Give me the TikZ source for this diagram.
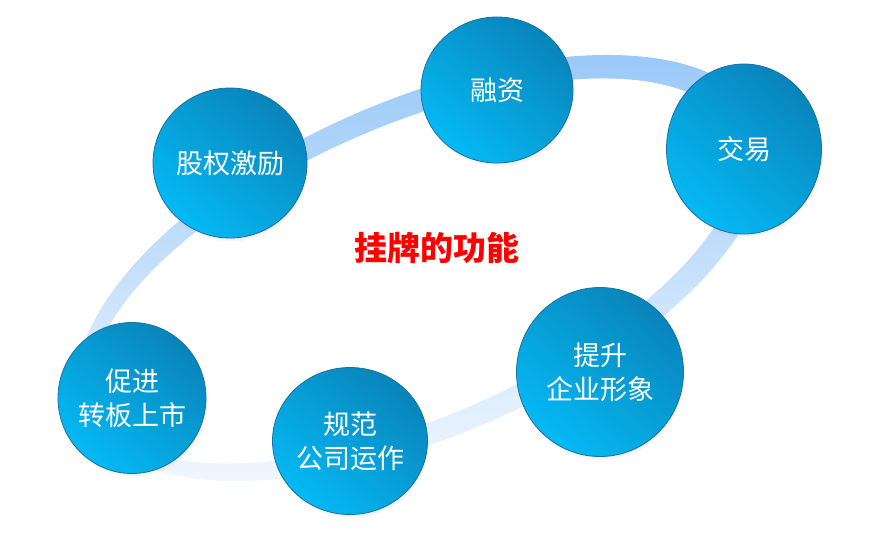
\documentclass[tikz,border=0pt]{standalone}
\usepackage{fontspec}
\newfontfamily\cjk{Noto Sans CJK SC}
\usetikzlibrary{shapes.geometric,shadows}
\definecolor{balltop}{HTML}{0984BA}
\definecolor{ballbot}{HTML}{05B9F4}
\definecolor{ballrim}{HTML}{16729E}
\definecolor{ringtop}{HTML}{96C7F8}
\definecolor{ringbot}{HTML}{F5F9FE}
\tikzset{ball/.style={ellipse,inner sep=-15pt,top color=balltop,bottom color=ballbot,shading angle=-40,
           draw=ballrim,line width=.8pt,
           circular drop shadow={shadow xshift=1pt,shadow yshift=-4pt,shadow scale=1,opacity=.35},
           text=white,align=center,font=\cjk\fontsize{27}{34}\selectfont},
         title/.style={text=red,font=\cjk\bfseries\fontsize{33}{40}\selectfont}}

\begin{document}
\begin{tikzpicture}[x=1pt,y=-1pt]
  \useasboundingbox (0,0) rectangle (890,546);
  \shade[even odd rule,top color=ringtop,bottom color=ringbot]
    (422,268) ellipse [x radius=369pt,y radius=168pt,rotate=23.5]
    (415,271) ellipse [x radius=347pt,y radius=146pt,rotate=23.5];
  \node[ball,minimum width=154pt,minimum height=150pt] (guquan) at (230,163) {股权激励};
  \node[ball,minimum width=152pt,minimum height=146pt] (rongzi) at (497,90) {融资};
  \node[ball,minimum width=155pt,minimum height=170pt] (jiaoyi) at (744,149) {交易};
  \node[ball,minimum width=167pt,minimum height=169pt] (tisheng) at (600,372) {提升\\企业形象};
  \node[ball,minimum width=155pt,minimum height=147pt] (guifan) at (350,441) {规范\\公司运作};
  \node[ball,minimum width=148pt,minimum height=151pt] (cujin) at (132,398) {促进\\转板上市};
  \node[title] (gongneng) at (437,248) {挂牌的功能};
\end{tikzpicture}
\end{document}
